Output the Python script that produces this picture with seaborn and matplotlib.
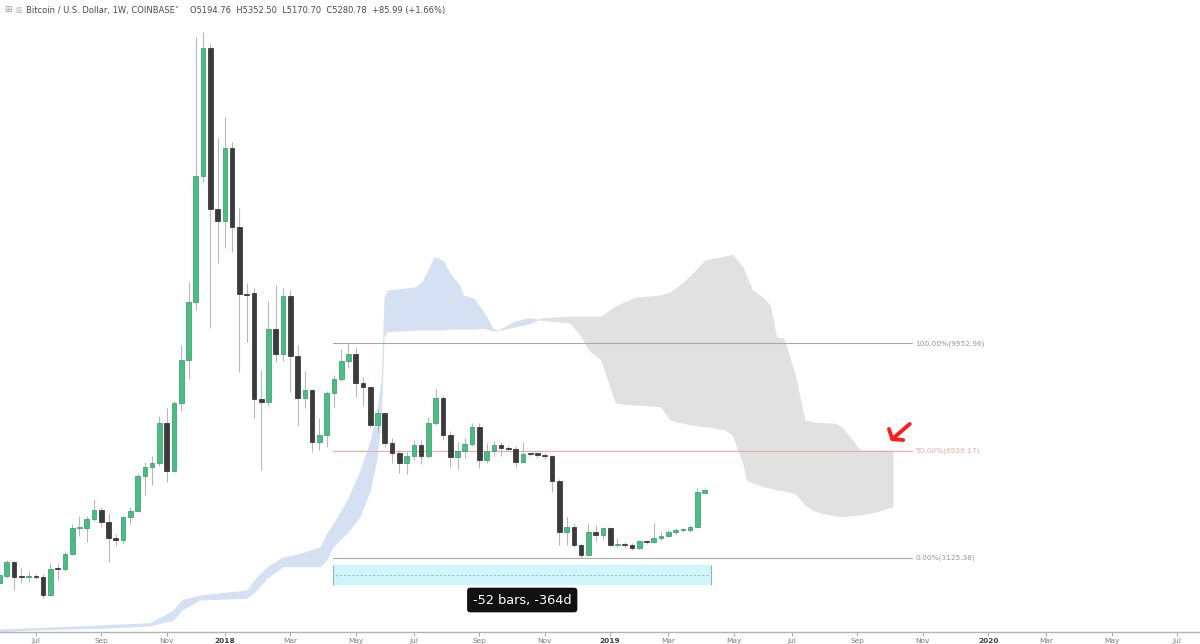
import numpy as np
import pandas as pd
import matplotlib
matplotlib.use("Agg")
import matplotlib.pyplot as plt
from matplotlib.patches import Rectangle
import seaborn as sns

# weekly candles, first bar = week of 2017-05-29 (Coinbase BTC/USD)
opens = [2319, 2542, 2998, 2520, 2515, 2525, 2520, 1938, 2790, 2760,
         3243, 4061, 4061, 4358, 4644, 4272, 3743, 3689, 4412, 4622,
         5727, 6004, 6150, 7406, 5897, 8042, 9422, 11280, 15275, 19350,
         14220, 13850, 16180, 13650, 11525, 11546, 8180, 8095, 10400, 9610,
         11470, 9550, 8200, 8465, 6820, 7030, 8360, 8807, 9400, 9610,
         8700, 8550, 7350, 7725, 6770, 6450, 6150, 6364, 6715, 6364,
         7406, 8220, 7030, 6320, 6530, 6740, 7300, 6237, 6533, 6715,
         6610, 6580, 6180, 6430, 6420, 6410, 6364, 5578, 3953, 4112,
         3530, 3210, 3953, 3848, 4060, 3530, 3540, 3530, 3425, 3667,
         3620, 3762, 3816, 3934, 4007, 4020, 4112, 5194.76]
highs = [2620, 3040, 3010, 2800, 2700, 2620, 2620, 2966, 2960, 3348,
         4189, 4453, 4463, 4994, 4740, 4540, 3870, 4450, 4750, 5813,
         6180, 6360, 7638, 7883, 8125, 9900, 11916, 19720, 19860, 19500,
         16480, 17170, 16350, 14260, 11864, 11700, 9100, 11310, 11810, 11700,
         11650, 9900, 9070, 8500, 7565, 8430, 8930, 9772, 9953, 9850,
         8890, 8600, 7850, 7750, 6928, 6550, 6500, 6870, 6870, 7600,
         8490, 8300, 7150, 6820, 6930, 7400, 7420, 6770, 6850, 6800,
         6680, 6680, 6820, 6480, 6470, 6460, 6400, 5620, 4430, 4200,
         3600, 4220, 4180, 4100, 4110, 3760, 3620, 3600, 3700, 3700,
         4220, 3950, 4000, 4070, 4070, 4180, 5335, 5352.50]
lows = [2260, 2470, 2096, 2320, 2340, 2450, 1841, 1900, 2410, 2700,
        3200, 3816, 3635, 4300, 4100, 2998, 3500, 3560, 4198, 4580,
        5122, 5450, 6050, 5546, 5850, 7800, 8830, 11015, 15100, 10430,
        12500, 12980, 12850, 9050, 10000, 7565, 5920, 7950, 9370, 9400,
        8410, 7350, 7900, 6500, 6555, 6650, 7900, 8750, 9167, 8253,
        7957, 7300, 7100, 6650, 6150, 5815, 5800, 6250, 6100, 6300,
        7350, 6870, 6025, 5940, 6300, 6680, 5980, 6130, 6380, 6350,
        6520, 6025, 6150, 6350, 6300, 6280, 5227, 3530, 3530, 3480,
        3125.38, 3180, 3650, 3700, 3500, 3470, 3450, 3380, 3400, 3560,
        3600, 3680, 3780, 3870, 3950, 3950, 4060, 5170.70]
closes = [2574, 2998, 2520, 2515, 2525, 2520, 1938, 2775, 2760, 3243,
          4061, 4080, 4358, 4644, 4272, 3743, 3689, 4412, 4622, 5727,
          6004, 6150, 7406, 5897, 8042, 9422, 11280, 15275, 19350, 14220,
          13850, 16180, 13650, 11525, 11490, 8180, 8095, 10400, 9610, 11470,
          9550, 8200, 8465, 6820, 7030, 8360, 8807, 9400, 9610, 8700,
          8550, 7350, 7725, 6770, 6450, 6150, 6364, 6715, 6364, 7406,
          8220, 7030, 6320, 6530, 6740, 7300, 6237, 6533, 6715, 6610,
          6580, 6180, 6430, 6420, 6410, 6364, 5578, 3953, 4112, 3530,
          3210, 3953, 3848, 4060, 3530, 3540, 3530, 3425, 3667, 3620,
          3762, 3816, 3934, 4007, 4020, 4112, 5227, 5280.78]

# ichimoku cloud (week index, upper, lower)
blue_x = [0, 4.6, 13.8, 20.7, 23.9, 25.1, 27.6, 34.0, 35.4, 36.8, 39.0, 41.3,
          44.1, 45.0, 45.9, 47.8, 49.6, 51.0, 51.9, 52.5, 52.9, 53.4, 57.2,
          58.1, 59.8, 61.0, 62.0, 63.3, 63.8, 65.3, 66.6, 67.9, 68.6, 70.9,
          72.8, 74.1]
blue_top = [854, 896, 982, 1055, 1459, 1800, 1937, 2096, 2520, 2839, 3157, 3265,
            3476, 3903, 4222, 4963, 5918, 6873, 7829, 8784, 11437, 11650, 11755,
            11914, 12710, 12605, 12181, 11808, 11491, 11386, 10959, 10430, 10376,
            10663, 10771, 10727]
blue_bot = [759, 823, 877, 950, 1141, 1459, 1778, 1832, 2096, 2469, 2839, 2839,
            2839, 3052, 3476, 3902, 4431, 5281, 6236, 7510, 10185, 10322, 10376,
            10376, 10376, 10376, 10408, 10408, 10408, 10408, 10430, 10344, 10360,
            10472, 10567, 10695]
gray_x = [74.2, 78.5, 80.0, 81.0, 82.7, 84.7, 85.6, 87.5, 90.9, 92.2, 93.2,
          95.1, 97.0, 98.4, 99.8, 100.8, 101.7, 102.3, 102.7, 103.6, 105.0,
          106.0, 106.9, 107.9, 109.4, 110.8, 111.8, 113.1, 115.1, 116.0, 117.0,
          118.4, 120.7, 122.9]
gray_top = [10758, 10822, 10822, 10822, 10822, 11141, 11236, 11427, 11491, 11586,
            11746, 12128, 12605, 12669, 12733, 12796, 12541, 12382, 12128, 11650,
            11427, 11172, 10163, 10122, 9007, 7510, 7456, 7430, 7405, 7255,
            6978, 6555, 6555, 6555]
gray_bot = [10695, 10599, 10163, 9739, 9421, 8052, 8020, 7988, 7934, 7510,
            7446, 7350, 7297, 7255, 7192, 7032, 6459, 6077, 5599, 5504,
            5386, 5345, 5281, 5249, 5176, 4803, 4644, 4539, 4453, 4431,
            4453, 4485, 4590, 4749]

# fibonacci retracement levels
fib_levels = [9952.96, 6539.17, 3125.38]
fib_labels = ["100.00%(9952.96)", "50.00%(6539.17)", "0.00%(3125.38)"]

sns.set_theme(style="white")
plt.rcParams['font.family'] = ['DejaVu Sans']

fig = plt.figure(figsize=(12, 6.44), dpi=100)
ax = fig.add_axes([0, 12 / 644, 1, 632 / 644])

o = np.array(opens, dtype=float)
h = np.array(highs, dtype=float)
l = np.array(lows, dtype=float)
c = np.array(closes, dtype=float)
x = np.arange(len(o))
up = c >= o

# cloud
ax.fill_between(blue_x, blue_bot, blue_top, color="#d5e0f3", lw=0, zorder=1)
ax.fill_between(gray_x, gray_bot, gray_top, color="#e1e1e1", lw=0, zorder=1)

# candles
ax.vlines(x, l, h, color="#b8b8b8", lw=0.8, zorder=2)
body_lo = np.minimum(o, c)
body_h = np.maximum(np.abs(c - o), 35)
ax.bar(x[up], body_h[up], bottom=body_lo[up], width=0.64, color="#4cbb84",
       edgecolor="#2f9a64", lw=0.5, zorder=3)
ax.bar(x[~up], body_h[~up], bottom=body_lo[~up], width=0.64, color="#3b3b3b",
       edgecolor="#2a2a2a", lw=0.5, zorder=3)

# fib retracement
fib_start, fib_end = 45.9, 125.5
fib_colors = ["#a9a9a9", "#eeaaaa", "#a9a9a9"]
for lev, lab, col in zip(fib_levels, fib_labels, fib_colors):
    ax.plot([fib_start, fib_end], [lev, lev], color=col, lw=0.8, zorder=2)
    ax.text(fib_end + 0.5, lev, lab, color=col if col != "#a9a9a9" else "#9a9a9a",
            fontsize=5.3, va="center", ha="left")

# measure tool
m0, m1 = 45.9, 97.9
ax.add_patch(Rectangle((m0, 2256), m1 - m0, 2893 - 2256, facecolor="#cff6fa",
                       edgecolor="none", zorder=2))
ax.vlines([m0, m1], 2256, 2893, color="#9ab0b3", lw=0.8, zorder=3)
ax.plot([m0 + 0.3, m1 - 0.3], [2574, 2574], color="#a8b8ba", lw=0.6,
        ls=(0, (3, 2)), zorder=3)
ax.text(m0 + 0.35, 2574, ":", fontsize=4, color="#8a9a9c", va="center")
ax.text(71.9, 1778, "-52 bars, -364d", color="white", fontsize=9.3,
        ha="center", va="center", zorder=5,
        bbox=dict(boxstyle="round,pad=0.45,rounding_size=0.25",
                  facecolor="#111111", edgecolor="none"))

# red arrow
ax.plot([125.2, 122.8], [7383, 6905], color="#ff1c1c", lw=2.8,
        solid_capstyle="round", zorder=6)
ax.plot([122.35, 122.8, 124.3], [7224, 6905, 6873], color="#ff1c1c", lw=2.8,
        solid_capstyle="round", solid_joinstyle="round", zorder=6)

ax.set_xlim(0.069, 165.13)
ax.set_ylim(759, 20888)

# month ticks snapped to the first weekly bar of the month
base = pd.Timestamp("2017-05-29")
months = pd.date_range("2017-07-01", "2020-07-01", freq="2MS")
pos, labs = [], []
for d in months:
    off = (7 - d.weekday()) % 7
    pos.append(((d - base).days + off) / 7)
    labs.append(str(d.year) if d.month == 1 else d.strftime("%b"))
ax.set_xticks(pos)
ax.set_xticklabels(labs)
for t in ax.get_xticklabels():
    if t.get_text().isdigit():
        t.set_color("#3d3d3d")
        t.set_fontweight("bold")
    else:
        t.set_color("#7d7d7d")
ax.tick_params(axis="x", labelsize=5.3, length=3, width=0.6, color="#9a9a9a",
               pad=1.5, bottom=True)
ax.set_yticks([])
for s in ["top", "left", "right"]:
    ax.spines[s].set_visible(False)
ax.spines["bottom"].set_color("#b4b4b4")
ax.spines["bottom"].set_linewidth(1.0)
ax.grid(False)

# header
hy = 1 - 10 / 644
fig.text(4 / 1200, hy, "⊞", fontsize=6.5, color="#9a9a9a", va="center")
fig.text(15 / 1200, hy, "▥", fontsize=5, color="#b0b0b0", va="center")
fig.text(26 / 1200, hy, "Bitcoin / U.S. Dollar, 1W, COINBASE˅",
         fontsize=6, color="#4a4a4a", va="center")
fig.text(190 / 1200, hy,
         "O5194.76  H5352.50  L5170.70  C5280.78  +85.99 (+1.66%)",
         fontsize=6, color="#4a4a4a", va="center")

fig.savefig("out.png", dpi=100)
